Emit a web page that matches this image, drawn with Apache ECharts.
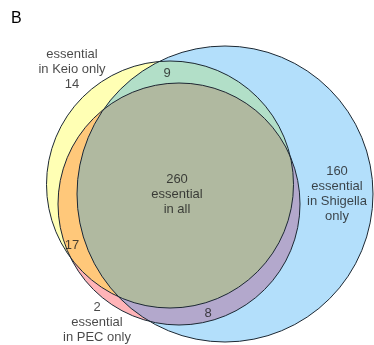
<!DOCTYPE html>
<html>
<head>
<meta charset="utf-8">
<script src="https://cdn.jsdelivr.net/npm/echarts@6/dist/echarts.min.js"></script>
<style>
html,body{margin:0;padding:0;background:#fff;}
#main{width:374px;height:345px;}
</style>
</head>
<body>
<div id="main"></div>
<script>
// sets: Keio, PEC, Shigella (circle centre + radius in plot units)
var setNames = ['Keio', 'PEC', 'Shigella'];
var setX = [170, 179, 225];
var setY = [184.5, 204, 194];
var setR = [123.5, 121, 148];

// region counts and where their labels sit
var regionNames = ['Keio only', 'PEC only', 'Shigella only', 'Keio+Shigella', 'Keio+PEC', 'PEC+Shigella', 'all'];
var regionCounts = [14, 2, 160, 9, 17, 8, 260];
var regionText = [
    'essential\nin Keio only\n{c}',
    '{c}\nessential\nin PEC only',
    '{c}\nessential\nin Shigella\nonly',
    '{c}', '{c}', '{c}',
    '{c}\nessential\nin all'
];
var labelX = [72, 97, 337, 167, 72, 208, 177];
var labelY = [69, 322, 194, 73, 245, 313, 194];

var myChart = echarts.init(document.getElementById('main'));

function circ(api, i) {
    var p = api.coord([setX[i], setY[i]]);
    var r = api.size([setR[i], 0])[0];
    return { cx: p[0], cy: p[1], r: r };
}

var option = {
    animation: false,
    title: {
        text: 'B', left: 6, top: 6,
        textStyle: { fontSize: 16, fontWeight: 'normal', color: '#000', fontFamily: 'Liberation Sans' }
    },
    grid: { left: 0, right: 0, top: 0, bottom: 0 },
    xAxis: { type: 'value', min: 0, max: 374, show: false },
    yAxis: { type: 'value', min: 0, max: 345, inverse: true, show: false },
    series: [{
        type: 'custom',
        data: [0],
        renderItem: function (params, api) {
            var k = circ(api, 0), p = circ(api, 1), s = circ(api, 2);
            var line = '#1c2833';
            return {
                type: 'group',
                children: [
                    { type: 'circle', shape: k, style: { fill: '#ffffb4' } },
                    { type: 'circle', shape: p, style: { fill: '#ffb4b8' } },
                    { type: 'circle', shape: s, style: { fill: '#b3dffb' } },
                    { type: 'circle', shape: k, style: { fill: '#b2dfc8' }, clipPath: { type: 'circle', shape: s } },
                    { type: 'circle', shape: p, style: { fill: '#ffc87a' }, clipPath: { type: 'circle', shape: k } },
                    { type: 'circle', shape: p, style: { fill: '#b3a8cc' }, clipPath: { type: 'circle', shape: s } },
                    {
                        type: 'group', clipPath: { type: 'circle', shape: s },
                        children: [{ type: 'circle', shape: k, style: { fill: '#b0b9a0' }, clipPath: { type: 'circle', shape: p } }]
                    },
                    { type: 'circle', shape: k, style: { fill: 'none', stroke: line, lineWidth: 1 } },
                    { type: 'circle', shape: p, style: { fill: 'none', stroke: line, lineWidth: 1 } },
                    { type: 'circle', shape: s, style: { fill: 'none', stroke: line, lineWidth: 1 } }
                ]
            };
        }
    }, {
        type: 'scatter',
        symbolSize: 0,
        silent: true,
        data: regionCounts.map(function (c, i) {
            return {
                name: regionNames[i],
                value: [labelX[i], labelY[i], c],
                label: { formatter: regionText[i].replace('{c}', c) }
            };
        }),
        label: {
            show: true, position: 'inside',
            fontSize: 13, lineHeight: 15, color: '#1a1a1a',
            fontFamily: 'Liberation Sans', align: 'center'
        }
    }]
};
myChart.setOption(option);
</script>
</body>
</html>
